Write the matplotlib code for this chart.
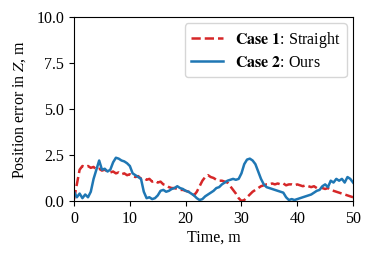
import numpy as np
import matplotlib
matplotlib.use('Agg')
import matplotlib.pyplot as plt

time = np.arange(0, 50.01, 0.5)

case1_straight = [
    0.10, 0.90, 1.70, 1.90, 1.85, 1.90, 1.80, 1.85, 1.70, 1.75,
    1.65, 1.70, 1.60, 1.55, 1.60, 1.50, 1.55, 1.45, 1.50, 1.40,
    1.45, 1.35, 1.30, 1.35, 1.20, 1.25, 1.15, 1.20, 1.05, 1.10,
    1.00, 1.05, 0.90, 0.85, 0.75, 0.70, 0.70, 0.65, 0.60, 0.60,
    0.55, 0.50, 0.45, 0.30, 0.50, 0.80, 1.10, 1.30, 1.40, 1.30,
    1.25, 1.15, 1.10, 1.10, 1.05, 1.00, 0.80, 0.60, 0.40, 0.15,
    0.00, 0.05, 0.20, 0.35, 0.50, 0.60, 0.70, 0.80, 0.85, 0.90,
    0.90, 0.95, 0.90, 0.95, 0.90, 0.95, 0.85, 0.90, 0.90, 0.85,
    0.90, 0.85, 0.80, 0.85, 0.80, 0.75, 0.80, 0.70, 0.75, 0.70,
    0.65, 0.70, 0.60, 0.55, 0.50, 0.45, 0.40, 0.35, 0.30, 0.25,
    0.20,
]

case2_ours = [
    0.50, 0.20, 0.40, 0.15, 0.35, 0.20, 0.50, 1.20, 1.70, 2.20,
    1.70, 1.75, 1.60, 1.70, 2.10, 2.35, 2.30, 2.20, 2.15, 2.05,
    1.90, 1.50, 1.40, 1.30, 1.20, 0.50, 0.15, 0.20, 0.10, 0.15,
    0.30, 0.55, 0.60, 0.50, 0.55, 0.65, 0.70, 0.80, 0.70, 0.65,
    0.55, 0.50, 0.40, 0.30, 0.15, 0.05, 0.10, 0.25, 0.35, 0.45,
    0.55, 0.70, 0.75, 0.90, 1.00, 1.10, 1.15, 1.20, 1.15, 1.20,
    1.50, 2.00, 2.25, 2.30, 2.20, 2.00, 1.60, 1.20, 0.90, 0.75,
    0.70, 0.65, 0.60, 0.55, 0.50, 0.45, 0.20, 0.05, 0.10, 0.05,
    0.10, 0.15, 0.20, 0.25, 0.30, 0.35, 0.45, 0.55, 0.60, 0.80,
    0.90, 0.75, 1.10, 1.00, 1.20, 1.10, 1.20, 1.00, 1.30, 1.20,
    1.00,
]

plt.rcParams['font.family'] = ['Liberation Serif', 'DejaVu Serif']
plt.rcParams['mathtext.fontset'] = 'stix'
plt.rcParams['font.size'] = 11.5

fig = plt.figure(figsize=(3.74, 2.63), dpi=100)
ax = fig.add_axes([0.198, 0.236, 0.746, 0.699])

ax.plot(time, case1_straight, '--', color='#d62728', lw=1.8, label=r'$\mathbf{Case\ 1}$: Straight')
ax.plot(time, case2_ours, '-', color='#1f77b4', lw=1.8, label=r'$\mathbf{Case\ 2}$: Ours')

ax.set_xlim(0, 50)
ax.set_ylim(0, 10)
ax.set_xticks([0, 10, 20, 30, 40, 50])
ax.set_yticks([0.0, 2.5, 5.0, 7.5, 10.0])
ax.set_xlabel('Time, m', labelpad=2)
ax.set_ylabel(r'Position error in $Z$, m', labelpad=6)
ax.legend(loc='upper right', borderaxespad=0.4, handletextpad=0.7, borderpad=0.4,
          labelspacing=0.3)

fig.savefig('out.png', dpi=100)
